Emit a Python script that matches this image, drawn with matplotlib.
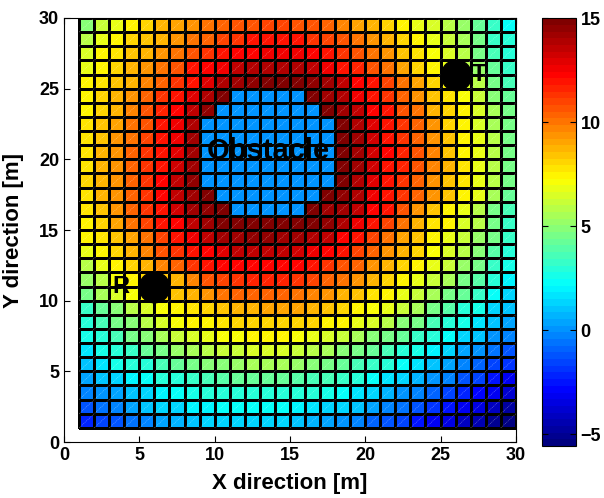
import numpy as np
import matplotlib
matplotlib.use("Agg")
import matplotlib.pyplot as plt
from matplotlib.colors import LinearSegmentedColormap, Normalize
from matplotlib.collections import LineCollection

plt.rcParams['font.family'] = ['Liberation Sans', 'DejaVu Sans']
plt.rcParams['font.weight'] = 'bold'

# grid node coordinates (faces between consecutive nodes)
x_edges = list(range(1, 31))
y_edges = list(range(1, 31))

# face values, first row = bottom (y from 1 to 2), obstacle cells = 0
z_values = [
    [-2.2, -1.6, -1.1, -0.6, -0.1, 0.4, 0.7, 1.0, 1.2, 1.3, 1.3, 1.5, 1.4, 1.2, 1.0, 0.7, 0.4, 0.1, -0.2, -0.8, -1.2, -1.7, -2.4, -3.0, -3.5, -4.0, -4.5, -5.0, -5.56],
    [-1.1, -0.6, -0.1, 0.4, 0.9, 1.2, 1.5, 1.9, 2.0, 2.15, 2.15, 2.3, 2.2, 2.15, 2.0, 1.7, 1.5, 1.2, 0.9, 0.4, -0.1, -0.6, -1.2, -1.9, -2.5, -3.0, -3.6, -4.1, -4.6],
    [-0.4, 0.1, 0.5, 1.0, 1.5, 1.9, 2.15, 2.5, 2.8, 3.0, 3.1, 3.1, 3.1, 3.1, 3.0, 2.8, 2.5, 2.15, 1.7, 1.2, 0.7, 0.2, -0.2, -0.9, -1.5, -2.1, -2.7, -3.3, -3.8],
    [0.4, 0.9, 1.3, 1.9, 2.15, 2.8, 3.1, 3.4, 3.7, 3.9, 4.1, 4.2, 4.2, 4.1, 4.0, 3.7, 3.6, 3.3, 2.8, 2.3, 1.7, 1.2, 0.7, 0.2, -0.4, -1.1, -1.7, -2.4, -3.0],
    [1.0, 1.7, 2.5, 2.8, 3.1, 3.7, 4.1, 4.5, 4.9, 5.0, 5.2, 5.4, 5.4, 5.4, 5.1, 4.9, 4.5, 4.2, 3.7, 3.3, 2.8, 2.15, 1.7, 1.0, 0.5, -0.1, -0.8, -1.4, -1.9],
    [1.7, 2.5, 3.1, 3.4, 4.1, 4.7, 5.2, 5.6, 6.0, 6.2, 6.3, 6.4, 6.4, 6.4, 6.1, 5.7, 5.4, 5.0, 4.5, 4.1, 3.6, 3.1, 2.5, 1.9, 1.2, 0.5, 0.1, -0.6, -1.1],
    [2.5, 3.1, 3.7, 4.4, 5.0, 5.6, 6.2, 6.6, 6.9, 7.0, 7.1, 7.3, 7.3, 7.3, 7.0, 6.9, 6.6, 6.2, 5.6, 5.0, 4.5, 4.1, 3.4, 2.8, 2.15, 1.5, 0.9, 0.2, -0.2],
    [3.1, 3.7, 4.4, 5.0, 5.7, 6.4, 7.0, 7.3, 7.5, 7.8, 8.0, 8.1, 8.2, 8.2, 8.1, 8.0, 7.6, 7.3, 6.9, 6.4, 5.7, 5.0, 4.4, 3.7, 3.1, 2.5, 1.7, 1.0, 0.4],
    [3.4, 4.1, 5.0, 5.7, 6.4, 7.0, 7.5, 7.8, 8.0, 8.3, 8.7, 8.8, 9.1, 9.1, 8.9, 8.7, 8.3, 8.0, 7.6, 7.1, 6.7, 6.2, 5.4, 4.7, 3.9, 3.1, 2.5, 1.5, 0.9],
    [4.5, 5.4, 6.4, 7.1, 7.6, 8.0, 8.3, 8.8, 9.4, 9.9, 10.2, 10.4, 10.4, 10.3, 10.1, 9.8, 9.3, 8.8, 8.3, 7.9, 7.3, 6.8, 6.2, 5.5, 4.7, 4.1, 3.2, 2.3, 1.3],
    [5.2, 6.0, 7.0, 7.5, 8.0, 8.4, 8.8, 9.6, 10.6, 11.1, 11.4, 11.6, 11.7, 11.5, 11.3, 11.0, 10.4, 9.9, 9.3, 8.7, 8.0, 7.5, 6.9, 6.3, 5.6, 4.7, 3.9, 3.0, 1.9],
    [6.0, 6.7, 7.3, 8.0, 8.8, 9.6, 10.4, 11.4, 12.0, 12.2, 12.3, 12.4, 12.4, 12.3, 12.2, 12.0, 11.4, 10.8, 10.2, 9.4, 8.7, 8.0, 7.5, 6.7, 6.2, 5.2, 4.4, 3.4, 2.5],
    [6.7, 7.5, 8.1, 8.8, 9.6, 10.6, 11.4, 12.0, 12.4, 12.9, 13.4, 13.6, 13.6, 13.4, 13.1, 12.7, 12.2, 11.8, 11.0, 10.2, 9.4, 8.7, 8.0, 7.1, 6.6, 5.7, 4.9, 3.9, 3.1],
    [7.3, 7.8, 8.3, 9.1, 10.1, 11.0, 11.9, 12.7, 13.5, 14.1, 14.3, 14.5, 14.5, 14.3, 14.2, 14.0, 13.6, 12.4, 11.9, 11.0, 10.1, 9.1, 8.3, 7.6, 6.7, 6.2, 5.2, 4.4, 3.4],
    [7.5, 8.1, 9.1, 10.1, 11.0, 11.9, 12.4, 13.6, 14.2, 14.8, 14.9, 15.0, 15.0, 15.0, 14.9, 14.8, 14.5, 14.0, 12.7, 12.0, 11.0, 10.1, 8.8, 7.9, 7.3, 6.6, 5.7, 4.7, 3.4],
    [7.8, 8.5, 9.3, 10.2, 11.2, 12.0, 13.1, 14.2, 14.6, 15.0, 0.0, 0.0, 0.0, 0.0, 0.0, 15.0, 14.3, 14.1, 13.4, 12.4, 11.8, 10.6, 9.4, 8.3, 7.5, 6.7, 5.7, 4.7, 3.7],
    [7.9, 8.7, 9.4, 10.4, 11.4, 12.2, 13.4, 14.3, 15.0, 0.0, 0.0, 0.0, 0.0, 0.0, 0.0, 0.0, 15.0, 14.5, 13.9, 12.7, 12.0, 11.2, 10.2, 9.3, 8.3, 7.6, 6.7, 5.6, 4.2],
    [8.0, 8.7, 9.4, 10.4, 11.4, 12.2, 13.4, 14.5, 0.0, 0.0, 0.0, 0.0, 0.0, 0.0, 0.0, 0.0, 0.0, 14.8, 14.0, 12.9, 12.0, 11.4, 10.4, 9.4, 8.5, 7.8, 6.9, 5.7, 4.4],
    [7.9, 8.7, 9.4, 10.4, 11.4, 12.0, 13.1, 14.3, 0.0, 0.0, 0.0, 0.0, 0.0, 0.0, 0.0, 0.0, 0.0, 14.8, 14.1, 13.1, 12.0, 11.6, 10.6, 9.6, 8.7, 7.8, 6.9, 6.0, 4.7],
    [7.9, 8.7, 9.4, 10.2, 11.2, 12.0, 12.9, 14.2, 0.0, 0.0, 0.0, 0.0, 0.0, 0.0, 0.0, 0.0, 0.0, 14.9, 14.2, 13.1, 12.2, 11.6, 10.6, 9.6, 8.5, 7.6, 6.7, 5.7, 4.5],
    [7.9, 8.5, 9.3, 10.1, 11.0, 12.0, 12.7, 14.1, 0.0, 0.0, 0.0, 0.0, 0.0, 0.0, 0.0, 0.0, 0.0, 14.9, 14.1, 13.1, 12.0, 11.4, 10.4, 9.4, 8.3, 7.6, 6.7, 5.7, 4.5],
    [7.8, 8.3, 9.1, 9.9, 10.8, 11.9, 12.6, 14.0, 0.0, 0.0, 0.0, 0.0, 0.0, 0.0, 0.0, 0.0, 0.0, 14.8, 14.0, 12.9, 12.0, 11.2, 10.2, 9.3, 8.1, 7.5, 6.6, 5.6, 4.4],
    [7.6, 8.1, 8.8, 9.6, 10.6, 11.6, 12.3, 13.4, 14.5, 0.0, 0.0, 0.0, 0.0, 0.0, 0.0, 0.0, 14.8, 14.2, 13.4, 12.3, 11.8, 10.8, 9.9, 8.8, 8.0, 7.4, 6.4, 5.4, 4.4],
    [7.5, 8.0, 8.7, 9.3, 10.2, 11.2, 12.0, 12.9, 14.0, 14.8, 0.0, 0.0, 0.0, 0.0, 0.0, 14.8, 14.3, 13.9, 12.7, 12.0, 11.4, 10.4, 9.4, 8.5, 7.8, 7.0, 6.2, 5.0, 4.1],
    [7.3, 7.8, 8.3, 8.8, 9.6, 10.4, 11.4, 12.0, 12.9, 13.9, 14.2, 14.5, 14.8, 14.9, 14.8, 14.5, 14.1, 13.4, 12.4, 11.9, 11.0, 10.1, 9.1, 8.1, 7.5, 6.6, 5.7, 4.7, 3.7],
    [6.7, 7.6, 8.1, 8.7, 9.3, 10.1, 10.8, 11.8, 12.2, 12.7, 13.4, 13.9, 14.0, 14.0, 13.9, 13.6, 12.7, 12.0, 11.6, 10.8, 10.1, 9.1, 8.1, 7.5, 6.8, 6.0, 5.1, 4.1, 3.4],
    [6.6, 7.3, 7.9, 8.3, 8.8, 9.4, 10.1, 10.8, 11.4, 12.0, 12.2, 12.4, 12.7, 12.7, 12.6, 12.2, 11.9, 11.4, 10.6, 10.1, 9.3, 8.5, 7.8, 7.1, 6.4, 5.7, 4.7, 3.7, 3.1],
    [6.0, 6.7, 7.3, 8.0, 8.3, 8.8, 9.4, 9.9, 10.4, 11.0, 11.4, 11.8, 11.9, 11.9, 11.8, 11.4, 11.0, 10.6, 9.9, 9.3, 8.7, 8.0, 7.5, 6.7, 6.2, 5.4, 4.4, 3.4, 2.8],
    [5.0, 6.2, 6.7, 7.3, 8.0, 8.6, 9.0, 9.4, 9.9, 10.2, 10.6, 10.8, 11.0, 11.0, 10.8, 10.6, 10.2, 9.6, 9.2, 8.7, 8.0, 7.5, 6.9, 6.4, 5.8, 5.1, 4.2, 3.2, 2.2],
]

receiver = (6, 11)
transmitter = (26, 26)
obstacle_label = "Obstacle"
cbar_ticks = [-5, 0, 5, 10, 15]
axis_ticks = [0, 5, 10, 15, 20, 25, 30]

# MATLAB-like jet (64 levels)
jet64 = LinearSegmentedColormap.from_list(
    "jet64",
    [(0.0, (0, 0, 0.5)), (0.125, (0, 0, 1)), (0.375, (0, 1, 1)),
     (0.625, (1, 1, 0)), (0.875, (1, 0, 0)), (1.0, (0.5, 0, 0))], N=64)
norm = Normalize(vmin=-5.56, vmax=15)

fig = plt.figure(figsize=(6.04, 4.98), dpi=100)
ax = fig.add_axes([0.106, 0.1124, 0.748, 0.8515])

X, Y = np.meshgrid(x_edges, y_edges)
Z = np.array(z_values)
mesh = ax.pcolormesh(X, Y, Z, cmap=jet64, norm=norm, edgecolors="black",
                     linewidth=0.75, shading="flat", antialiased=False)

# faint white diagonals of the triangulated faces
segs = []
for k in range(-(len(x_edges) - 2), len(y_edges) - 1):
    xa = max(x_edges[0], y_edges[0] - k)
    xb = min(x_edges[-1], y_edges[-1] - k)
    if xb > xa:
        segs.append([(xa, xa + k), (xb, xb + k)])
ax.add_collection(LineCollection(segs, colors="white", linewidths=0.4, alpha=0.45,
                                 linestyles=(0, (2, 1.5)), zorder=2))

ax.plot([receiver[0]], [receiver[1]], "o", ms=22, mfc="black", mec="black", zorder=5)
ax.plot([transmitter[0]], [transmitter[1]], "o", ms=22, mfc="black", mec="black", zorder=5)
ax.text(receiver[0] - 2.8, receiver[1], "R", fontsize=17, fontweight="bold",
        ha="left", va="center", zorder=6)
ax.text(transmitter[0] + 1.1, transmitter[1], "T", fontsize=17, fontweight="bold",
        ha="left", va="center", zorder=6)
ax.text(9.5, 20.6, obstacle_label, fontsize=21, fontweight="bold",
        ha="left", va="center", zorder=6)

ax.set_xlim(0, 30)
ax.set_ylim(0, 30)
ax.set_xticks(axis_ticks)
ax.set_yticks(axis_ticks)
ax.tick_params(direction="in", top=True, right=True, length=4, width=0.8,
               labelsize=13)
for lab in ax.get_xticklabels() + ax.get_yticklabels():
    lab.set_fontweight("bold")
ax.set_xlabel("X direction [m]", fontsize=16, fontweight="bold")
ax.set_ylabel("Y direction [m]", fontsize=16, fontweight="bold")
ax.xaxis.set_label_coords(0.5, -0.072)
ax.yaxis.set_label_coords(-0.088, 0.5)
for s in ax.spines.values():
    s.set_linewidth(0.8)

cax = fig.add_axes([0.897, 0.1044, 0.0563, 0.859])
cb = fig.colorbar(mesh, cax=cax, ticks=cbar_ticks)
cb.outline.set_linewidth(0.8)
cax.tick_params(direction="in", left=True, right=True, length=4, width=0.8,
                labelsize=13)
for lab in cax.get_yticklabels():
    lab.set_fontweight("bold")

fig.savefig("out.png", dpi=100)
